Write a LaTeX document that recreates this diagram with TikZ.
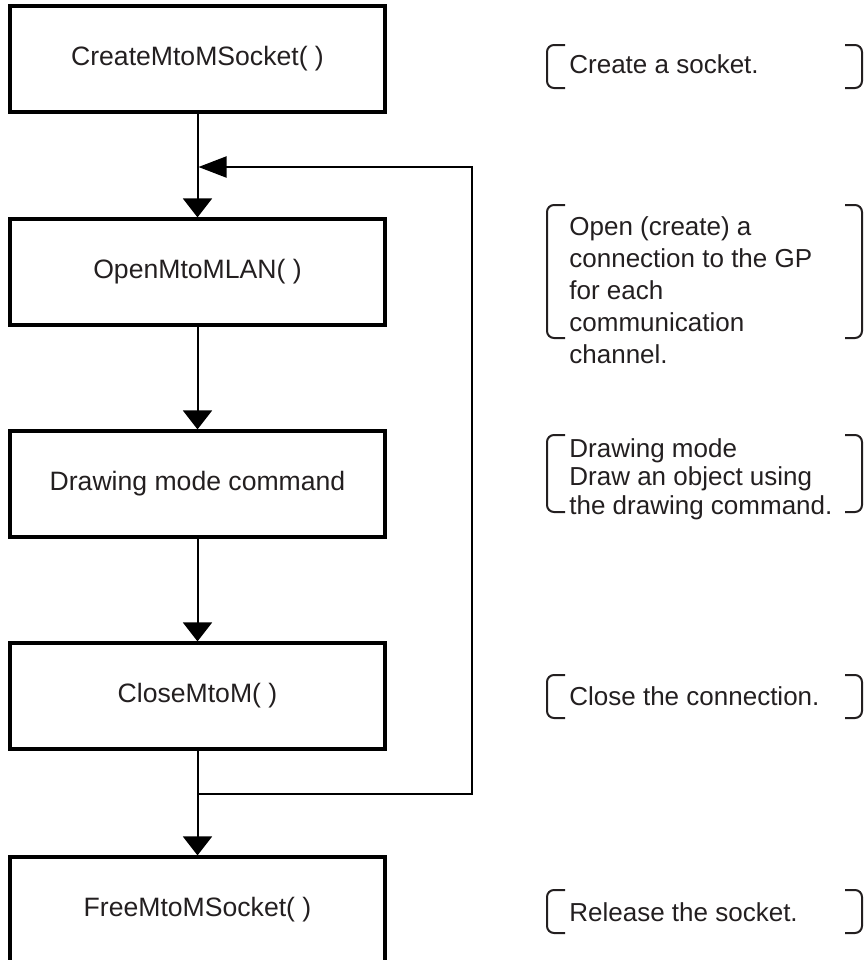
\documentclass[tikz,border=0pt]{standalone}
\usepackage{fontspec}
\setmainfont{Liberation Sans}
\usepackage{xcolor}
\definecolor{cLine}{HTML}{000000}
\definecolor{cText}{HTML}{231F20}
\usetikzlibrary{arrows.meta}
\tikzset{
  node-box/.style={draw=cLine,line width=1.6pt,minimum width=187.5pt,
    minimum height=53pt,inner sep=0pt,align=center,text=cText,
    font=\fontsize{13.3}{15.5}\selectfont},
  node-note/.style={anchor=west,align=left,inner sep=0pt,text=cText,
    font=\fontsize{13}{15.5}\selectfont},
  bracket/.style={draw=cText,line width=1pt,rounded corners=3.5pt},
  arrow/.style={-{Triangle[length=9.5pt,width=14.5pt]},line width=1pt,draw=cLine},
  arrow-back/.style={-{Triangle[length=14pt,width=10.5pt]},line width=1pt,draw=cLine},
}

\begin{document}
\begin{tikzpicture}[x=0.5pt,y=-0.5pt]
  \useasboundingbox (0,0) rectangle (867,960);
  % flow boxes
  \node[node-box] (create)  at (197.5,59)  {CreateMtoMSocket( )};
  \node[node-box] (open)    at (197.5,272) {OpenMtoMLAN( )};
  \node[node-box] (drawcmd) at (197.5,484) {Drawing mode command};
  \node[node-box] (close)   at (197.5,696) {CloseMtoM( )};
  \node[node-box] (free)    at (197.5,910) {FreeMtoMSocket( )};
  \draw[arrow] (create) -- (open);
  \draw[arrow] (open) -- (drawcmd);
  \draw[arrow] (drawcmd) -- (close);
  \draw[arrow] (close) -- (free);
  % loop back for each channel
  \coordinate (split) at (197.5,794);
  \coordinate (turn)  at (472,167);
  \coordinate (merge) at (198.5,167);
  \draw[arrow-back] (split) -| (turn) -- (merge);
  % notes
  \node[node-note] (note-create) at (569,64) {Create a socket.};
  \node[node-note,font=\fontsize{13}{16}\selectfont] (note-open) at (569,290)
    {Open (create) a\\connection to the GP\\for each\\communication\\channel.};
  \node[node-note,font=\fontsize{13}{14.3}\selectfont] (note-draw) at (569,479)
    {Drawing mode\\Draw an object using\\the drawing command.};
  \node[node-note] (note-close) at (569,696) {Close the connection.};
  \node[node-note] (note-free) at (569,912) {Release the socket.};
  \foreach \ya/\yb in {45/88,205/338,435/512,675/718,890/933} {
    \draw[bracket] (565,\ya) -| (547,\yb) -- (565,\yb);
    \draw[bracket] (845,\ya) -| (862,\yb) -- (845,\yb);
  }
\end{tikzpicture}
\end{document}
